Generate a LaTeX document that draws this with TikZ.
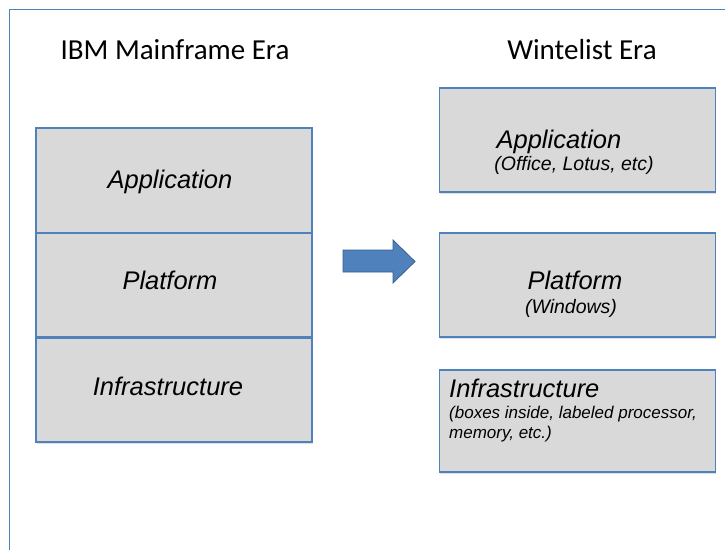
\documentclass[tikz,border=0pt]{standalone}
\usepackage{fontspec}
\usetikzlibrary{shadows}
\setmainfont{Liberation Sans}
\newfontfamily\headfont{Carlito}
\definecolor{boxgray}{HTML}{D9D9D9}
\definecolor{boxblue}{HTML}{4F81BD}
\definecolor{arrowedge}{HTML}{385D8A}

\tikzset{
	layer/.style={draw=boxblue, fill=boxgray, line width=1.3pt, minimum width=276pt, inner sep=0pt,
		drop shadow={shadow xshift=0.8pt, shadow yshift=-1.5pt, opacity=0.25}},
	heading/.style={anchor=base, inner sep=0pt, font=\headfont\fontsize{29}{33}\selectfont},
	bigtxt/.style={anchor=base, inner sep=0pt, font=\itshape\fontsize{25.5}{29}\selectfont},
	smalltxt/.style={anchor=base, inner sep=0pt, font=\itshape\fontsize{17}{20}\selectfont},
	subtxt/.style={smalltxt, font=\itshape\fontsize{19.5}{22}\selectfont},
}

\begin{document}
\begin{tikzpicture}[x=1pt, y=-1pt]
		\useasboundingbox (0,0) rectangle (725,550);

		% frame, cut off at the right and bottom
		\draw[boxblue, line width=1.3pt] (9.5,550) -- (9.5,9.5) -- (725,9.5);

		\node[heading] (hleft) at (175,59) {IBM Mainframe Era};
		\node[heading] (hright) at (582,59) {Wintelist Era};

		% mainframe stack
		\node[layer, minimum height=105pt] (lapp) at (174,180.5) {};
		\node[layer, minimum height=104pt] (lplat) at (174,285) {};
		\node[layer, minimum height=104pt] (linfra) at (174,390) {};

		\node[bigtxt] (lapptxt) at (170,188) {Application};
		\node[bigtxt] (lplattxt) at (170,289) {Platform};
		\node[bigtxt] (linfratxt) at (168,395) {Infrastructure};

		% wintelist layers
		\node[layer, minimum height=104pt] (rapp) at (577.5,140) {};
		\node[layer, minimum height=104pt] (rplat) at (577.5,285) {};
		\node[layer, minimum height=102pt] (rinfra) at (577.5,421) {};

		\node[bigtxt] (rapptxt) at (559,148) {Application};
		\node[subtxt] (rappsub) at (574,170) {(Office, Lotus, etc)};
		\node[bigtxt] (rplattxt) at (575,289) {Platform};
		\node[subtxt] (rplatsub) at (571,313) {(Windows)};
		\node[bigtxt, anchor=base west] (rinfratxt) at (449,397) {Infrastructure};
		\node[smalltxt, anchor=base west] (rinfrasub) at (449,418) {(boxes inside, labeled processor,};
		\node[smalltxt, anchor=base west] (rinfrasub2) at (449,438) {memory, etc.)};

		% block arrow
		\draw[fill=boxblue, draw=arrowedge, line width=0.8pt] (343,250) -- (393,250) -- (393,240) -- (415,261.5) -- (393,283) -- (393,272) -- (343,272) -- cycle;
	\end{tikzpicture}
\end{document}
